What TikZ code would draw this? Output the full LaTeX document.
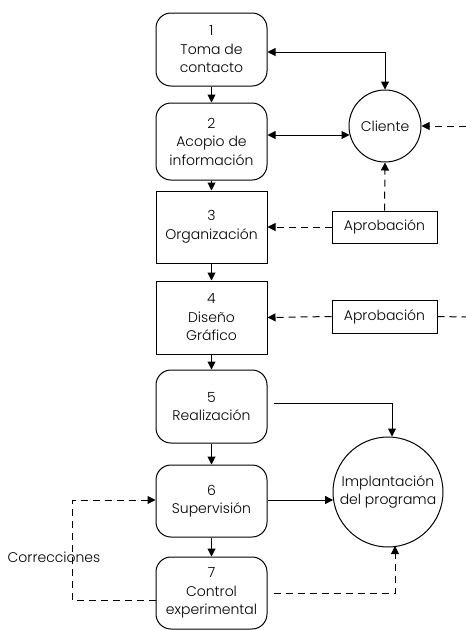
\documentclass[tikz,border=0pt]{standalone}
\usepackage{fontspec}
\setmainfont{Poppins Light}
\usetikzlibrary{arrows.meta,calc}
\begin{document}
\begin{tikzpicture}[x=1pt,y=-1pt,
  every node/.style={font=\fontsize{14}{18.5}\selectfont, align=center, inner sep=0pt},
  stage/.style={draw, line width=1pt, minimum width=111pt, minimum height=73pt},
  rstage/.style={stage, rounded corners=15pt},
  circ/.style={draw, circle, line width=1pt},
  apbox/.style={draw, line width=1pt, minimum width=105pt, minimum height=32pt},
  conn/.style={line width=1pt, -{Triangle[length=8pt,width=8pt]}},
  bconn/.style={line width=1pt, {Triangle[length=8pt,width=8pt]}-{Triangle[length=8pt,width=8pt]}},
  dconn/.style={conn, dash pattern=on 7pt off 5pt},
  dline/.style={line width=1pt, dash pattern=on 7pt off 5pt}]
\useasboundingbox (0,0) rectangle (466,630);
\node[rstage] (b1) at (211.5,49.5) {1\\Toma de\\contacto};
\node[rstage, minimum height=77pt] (b2) at (211.5,141.5) {2\\Acopio de\\información};
\node[stage, minimum height=72pt] (b3) at (211.5,227) {3\\Organización};
\node[stage] (b4) at (211.5,317.5) {4\\Diseño\\Gráfico};
\node[rstage] (b5) at (211.5,406.5) {5\\Realización};
\node[rstage, minimum height=72pt] (b6) at (211.5,501) {6\\Supervisión};
\node[rstage, minimum height=72pt] (b7) at (211.5,593) {7\\Control\\experimental};
\node[circ, minimum size=72pt] (cl) at (385,126) {Cliente};
\node[apbox] (ap1) at (384.5,227) {Aprobación};
\node[apbox, minimum height=33pt] (ap2) at (384.5,316.5) {Aprobación};
\node[circ, minimum size=110pt] (im) at (388,492) {Implantación\\del programa};
\node (cor) at (54,557) {Correcciones};
\coordinate (rin) at (466,126);
\coordinate (rout) at (466,317);
\coordinate (cx) at (72,500);
% main flow
\draw[conn] (b1) -- (b2);
\draw[conn] (b2) -- (b3);
\draw[conn] (b3) -- (b4);
\draw[conn] (b4) -- (b5);
\draw[conn] (b5) -- (b6);
\draw[conn] (b6) -- (b7);
% client
\draw[bconn] ([yshift=-2.5pt]b1.east) -| (cl.north);
\draw[bconn] ([yshift=6.5pt]b2.east) -- ([yshift=6.5pt,xshift=1pt]b2.east -| cl.west);
\draw[dconn] (rin) -- (cl.east);
\draw[dconn] (ap1.north) -- (cl.south);
\draw[dconn] (ap1.west) -- (b3.east);
\draw[dconn] (ap2.west) -- (b4.east);
\draw[dline] (ap2.east) -- (rout);
% implantation
\draw[conn] ([xshift=6pt,yshift=3.5pt]b5.east) -| ([xshift=4pt]im.north);
\draw[conn] ([yshift=1pt]b6.east) -- ([yshift=1pt,xshift=0.6pt]b6.east -| im.west);
\draw[dconn] ([xshift=6pt]b7.east) -| ([xshift=7pt,yshift=1.5pt]im.south);
\draw[dconn] ([yshift=-7pt]b7.west) -| (cx) -- ([yshift=1pt]b6.west);
\end{tikzpicture}
\end{document}
